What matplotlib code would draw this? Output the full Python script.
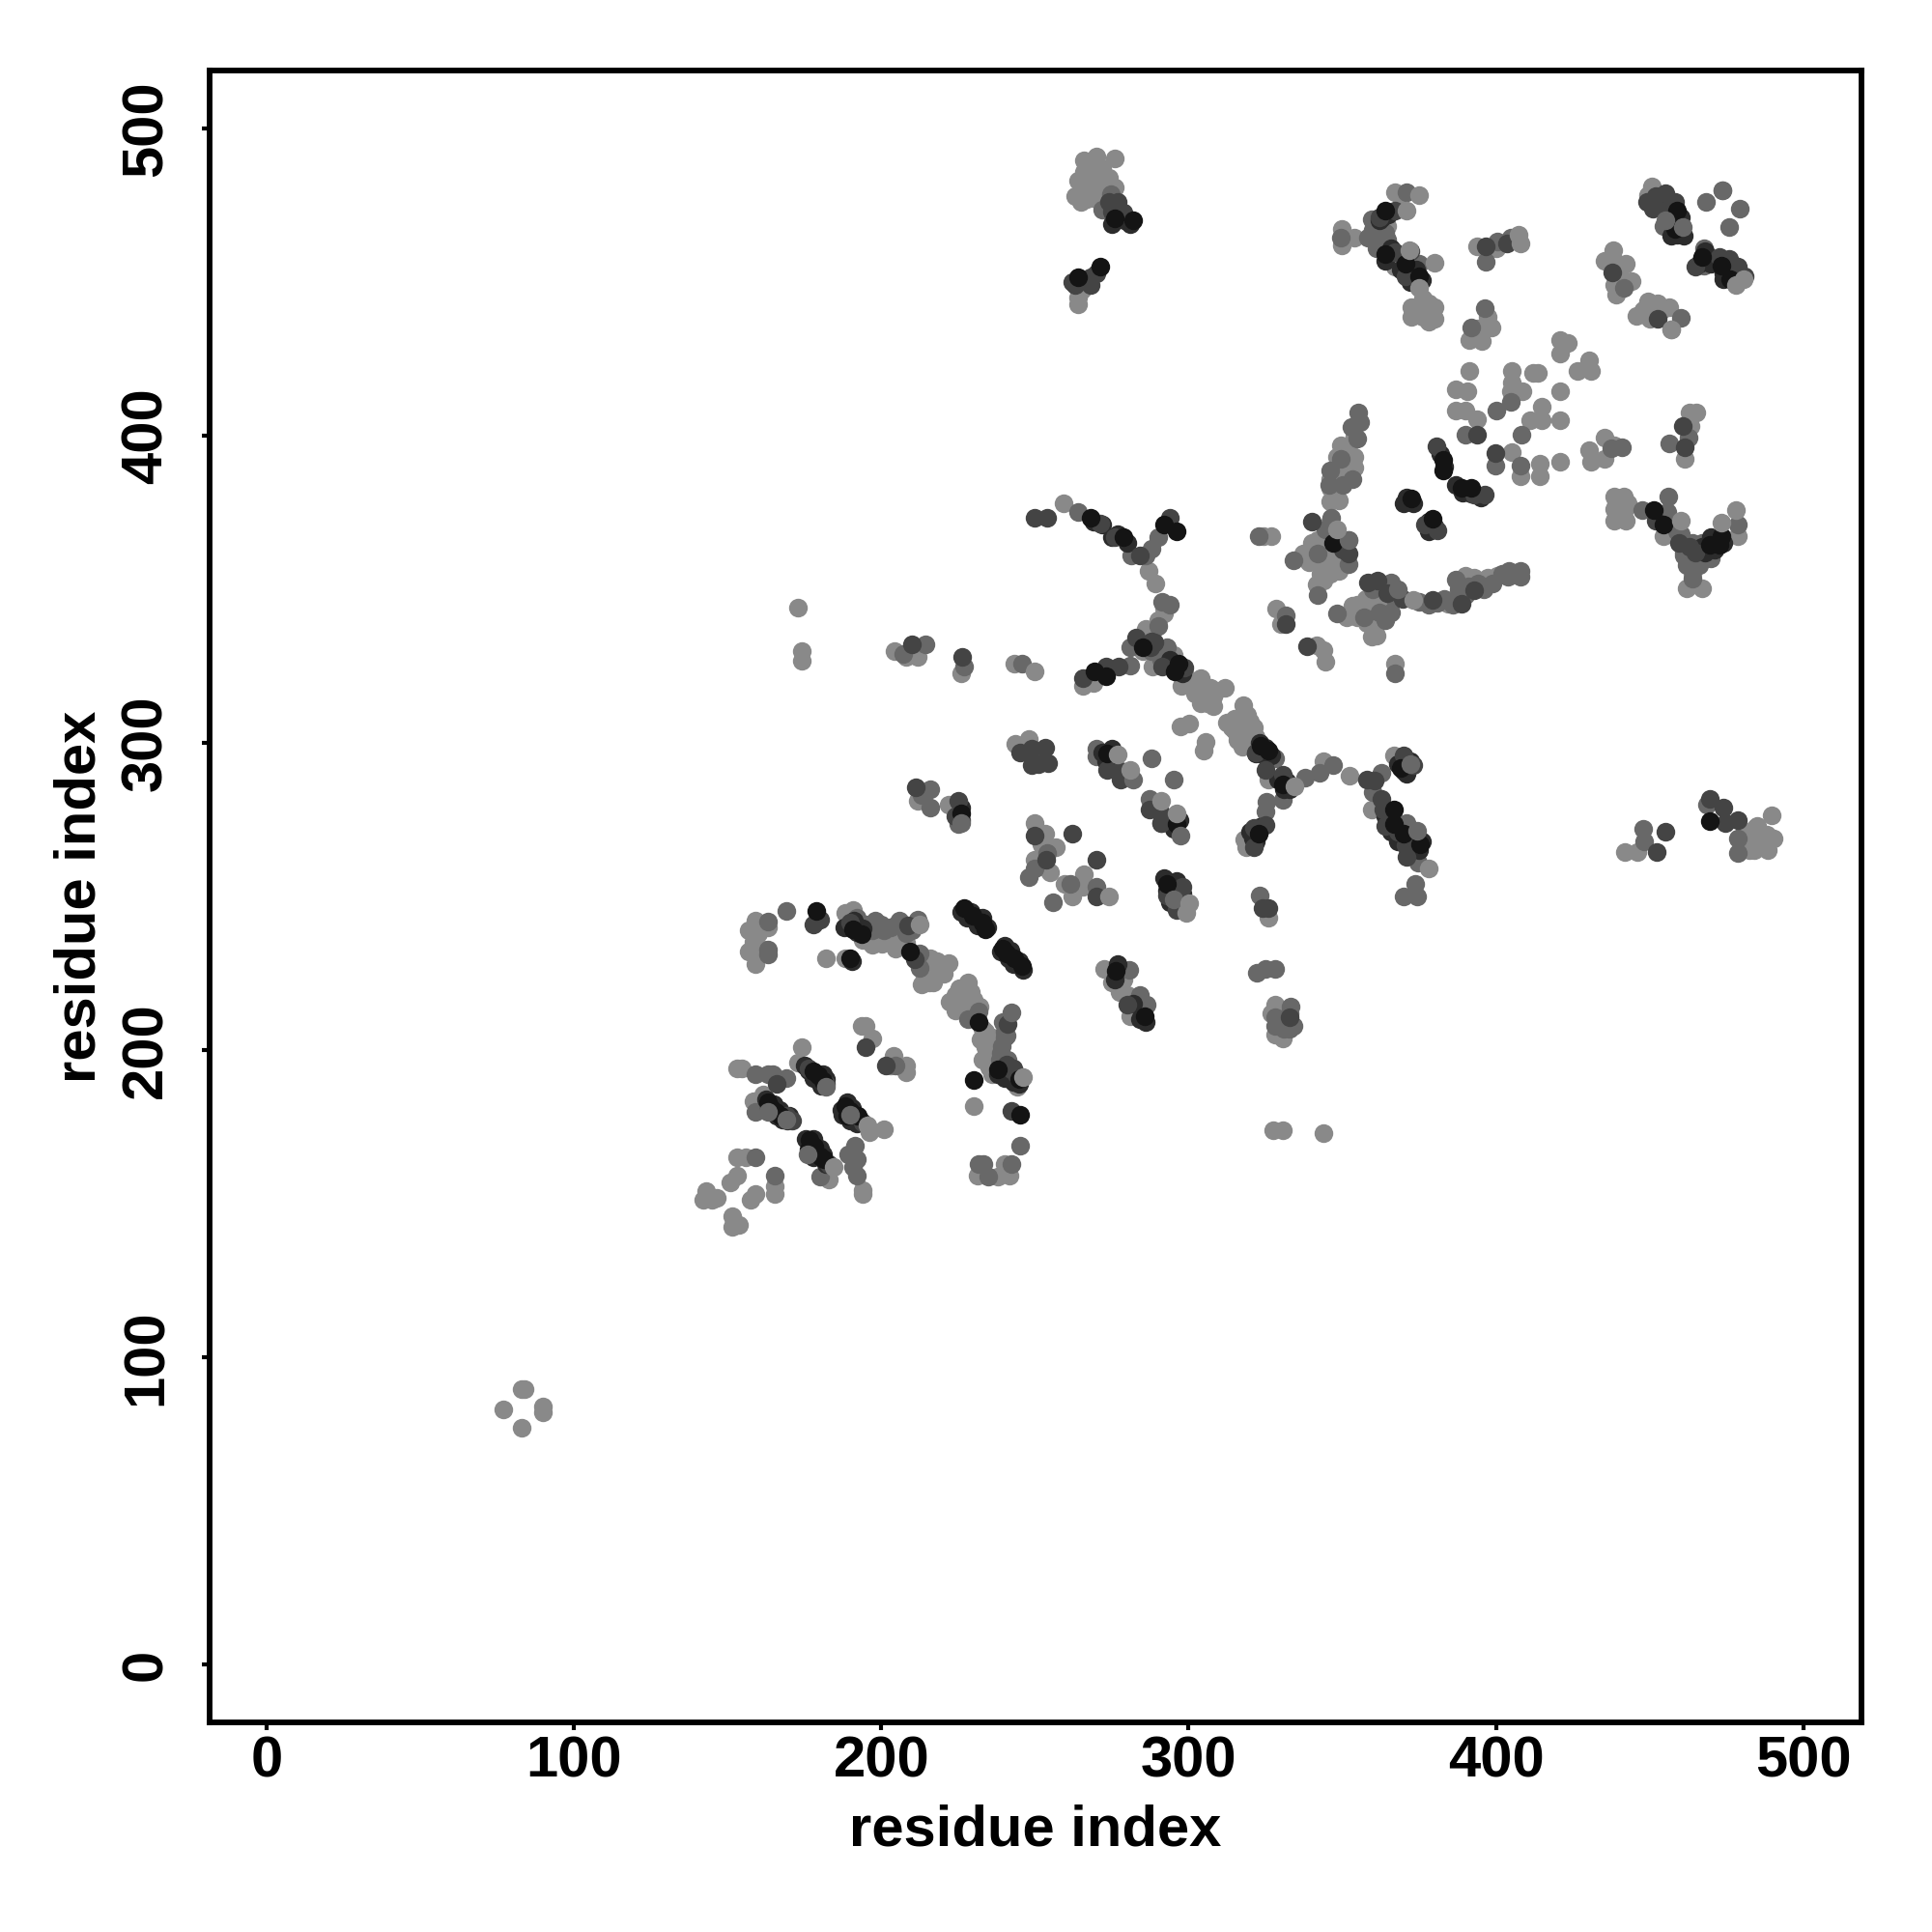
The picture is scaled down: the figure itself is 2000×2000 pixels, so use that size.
import numpy as np
import matplotlib
matplotlib.use('Agg')
import matplotlib.pyplot as plt

# Contact points, (residue, residue), grouped by grey level.
light_pts = [
    (77, 83), (83, 89.5), (84, 89.5), (83, 77), (90, 84), (90, 82),
    (142.2, 151.4), (143, 154), (144.8, 151.4), (146.4, 152), (151, 157), (153, 159),
    (151.6, 146), (151.6, 142.5), (153.7, 143), (153.2, 165), (156, 165),
    (157.4, 151.3), (159, 153), (165.2, 155.6), (165.2, 153), (153.2, 194), (154.8, 194),
    (173, 196), (174, 201), (158.4, 183.4), (161.6, 185.4), (183, 158),
    (201, 174.1), (194, 154.5), (194, 153), (193.5, 208), (195, 208), (197.2, 203.8),
    (204, 198), (203, 195), (208.2, 194.9), (208.2, 192.8), (159, 242), (163.1, 240),
    (158.4, 235.2), (159, 230.5), (182, 230), (188.3, 230), (188.3, 244.7), (190.9, 245.7),
    (194, 236), (205, 241), (197.2, 234.2), (200.3, 234.7), (204.5, 233.1),
    (215, 226.3), (216, 230), (215.5, 222.1), (219.2, 227.4), (221.8, 228.4), (220.2, 224.7),
    (228.1, 222.1), (225.5, 220), (222.3, 215.8), (226.5, 215.8), (230.2, 216.4),
    (233.9, 205.9), (232.3, 203.3), (234.4, 199.6), (235, 194.4), (244.3, 188.1),
    (230.2, 181.8), (231.2, 159.2), (240.1, 163), (241.7, 159.2), (238, 158.7),
    (243.2, 325.9), (268.9, 319.6), (265.7, 318.6), (285.6, 335.8), (288.3, 324.8),
    (295, 328.5), (297.7, 318.5), (304, 321.2), (307.1, 318), (311.8, 318), (306, 312.8),
    (305, 315.4), (297.2, 305.4), (300.1, 306.3), (305.5, 300.2), (305, 297.6),
    (317.8, 312.3), (312.4, 306.5), (317.6, 308), (321.3, 304.9), (317.6, 298.6),
    (326, 288), (343.8, 293.9), (352.2, 289.2), (318.1, 268.7), (318.6, 266.1),
    (366.8, 296), (359.5, 278.2), (250, 274), (253.2, 270.3), (256.8, 266.1),
    (250, 262.1), (253.2, 259.3), (259.5, 254), (266, 257.2), (265.7, 253), (262, 249.9),
    (243.7, 299.7), (247.9, 301.2), (250, 296), (272.5, 226.3), (278.8, 223.1),
    (280.9, 211.1), (277.5, 219), (326, 243.1), (328, 214.8), (330.7, 203.8),
    (327.5, 174), (330.5, 174), (344, 173), (173, 344), (174, 330), (174, 326.8),
    (204.3, 330), (212, 328), (208, 328), (226, 322.8), (212, 281), (222, 280),
    (266, 489.6), (270, 490.8), (276, 490.4), (268, 483.6), (265.2, 479.5), (272, 479.5),
    (264, 483), (264, 445), (265.2, 447.5), (264, 442.7), (367, 479.3),
    (349.8, 467.2), (353.9, 464.4), (349.8, 462), (364.5, 468.3), (367, 455),
    (376.3, 444.7), (372.6, 441.9), (380, 441.9), (372.6, 438.6), (376.3, 438.6), (380, 438),
    (393.7, 461.6), (400, 461), (397.4, 438.6), (398.6, 435.2), (391.2, 431.3), (395.3, 430.7),
    (394, 435), (450.8, 481.2), (449.6, 478.4), (438, 460.5), (435.3, 457.1), (438.3, 457),
    (442.1, 456), (438.4, 449.2), (439, 445.9), (444, 450.4), (445.8, 439.1), (449.6, 443.6),
    (452.7, 443), (448, 441), (456.4, 442), (457, 434.6),
    (421, 431.3), (423.5, 430.2), (421, 426.8), (426.6, 421.2), (430.3, 424.5), (430.9, 421.2),
    (391.2, 421.2), (405.1, 421), (405.1, 417.2), (413.5, 420.6), (412, 420.6), (421, 414.4),
    (408.6, 414.4), (404.9, 414.4), (386.8, 415), (390.6, 414.4), (386.8, 408.2), (389.9, 408.2),
    (393.7, 405.4), (414.8, 409.4), (411.1, 404.9), (414.8, 404.9), (421, 404.9),
    (405.1, 394.8), (408, 386.9), (414.2, 390.8), (414.2, 386.9), (421, 391.4),
    (430.3, 395.3), (435.3, 399.3), (430.9, 391.4), (435.3, 392.5), (438.4, 397),
    (462.9, 407.7), (465.1, 407.7), (463.2, 403.2), (461.4, 392.5),
    (438.4, 380.2), (441.5, 380.2), (438.4, 376.2), (442, 376.2), (438.4, 372.3), (442.1, 372.3),
    (454.5, 367.2), (463.9, 354.9), (462, 350.4), (467, 350.4), (478.8, 367.2),
    (340, 365), (342.1, 366.1), (337.2, 361.6), (339, 358.8), (342.7, 358.3), (341.5, 351.5),
    (344, 352.7), (353.9, 399.8), (349.6, 397), (348.3, 393.1), (353.9, 393.1), (353.9, 389.7),
    (345.9, 385.8), (347.1, 380.7), (345.9, 378.5), (357.6, 347), (353.3, 344.8), (351.4, 340.9),
    (359.5, 342), (360.8, 338), (359.5, 334.7), (384.4, 345.3), (389.9, 354.3), (393, 353.8),
    (397.4, 353.8), (400.5, 354.3), (328.5, 343.7), (330, 338.6), (341.5, 331.9), (344, 330.2),
    (344.6, 326.3), (367, 325.7), (442, 264.6), (446, 264.6), (482.4, 265), (484.4, 272.2),
    (488.4, 265), (490.4, 269), (489.6, 276.3), (484, 265), (482, 269),
    (259.2, 378), (286.9, 356), (289.3, 352), (292, 344), (286, 337), (324.4, 367.2), (327, 367.2),
    # filling out the blobs
    (266, 486), (268, 487), (270, 485), (272, 487), (266, 482), (270, 481), (274, 484),
    (276, 481), (267, 477), (270, 477), (273, 476), (263, 478), (265, 476),
    (299, 322), (301, 320), (303, 319), (306, 316), (308, 315), (309, 317), (304, 313),
    (308, 312), (302, 316), (315, 308), (319, 309), (320, 307), (315, 304), (318, 302),
    (320, 301), (316, 301), (314, 305), (317, 305), (322, 302),
    (198, 236), (201, 236), (203, 235), (206, 235), (208, 235), (216, 228), (218, 229),
    (218, 225), (217, 222), (214, 224), (213, 221.5), (224, 218), (227, 219), (229, 219),
    (225, 216), (228, 214), (230, 214), (224, 213), (232, 214), (234, 201), (236, 197),
    (233, 197), (236, 192), (233, 207), (236, 204),
    (352, 397), (351, 394), (349, 390), (350, 387), (346, 383), (349, 379), (352, 391),
    (343, 363), (345, 360), (347, 358), (349, 356), (346, 355), (343, 355), (344, 362),
    (348, 362), (350, 360), (346, 372), (347, 368), (355, 345), (357, 343), (355, 341),
    (358, 339), (361, 335), (362, 340), (358, 345), (360, 347), (363, 345),
    (483, 268), (485, 270), (487, 268), (486, 266), (485, 273), (481, 271), (488, 270),
    (290, 340), (292, 342), (289, 337), (286, 335), (285, 330), (157, 232), (161, 233),
    (159, 228), (157, 239), (160, 238), (193, 241), (196, 237), (199, 236), (252, 267),
    (252, 263), (255, 258), (278, 220), (280, 218), (275, 222), (327, 212), (328, 205),
    (376, 441), (378, 443), (374, 440), (378, 437), (369, 478), (441, 451), (440, 453),
    (452, 440), (454, 441), (450, 438), (443, 378), (440, 374), (439, 378),
]
mid_pts = [
    (159, 165), (165.2, 159), (159, 192), (163, 192), (164.7, 192), (169, 191),
    (159, 180), (180, 158.7), (191.4, 169), (189.3, 166), (192, 164.5), (190.9, 161.9),
    (192, 159.2), (204.5, 195), (163.1, 241.8), (163, 232.6), (163, 231), (169.1, 245.2),
    (192, 243), (195, 241), (197.2, 238.9), (200.9, 238.9), (211.9, 242.6), (212.4, 231.6),
    (212.4, 226.8), (231.8, 212.7), (228.1, 210), (239.6, 209), (240.7, 204.8), (239.1, 201.1),
    (238.6, 197), (231.8, 163), (233.3, 163), (234.9, 158.7), (242.2, 163), (245.2, 169),
    (245.8, 325.9), (280.9, 325.3), (280.9, 331.1), (290.9, 328), (328, 295), (338, 288.7),
    (342.7, 290.2), (325.4, 280.8), (330.7, 281.3), (324.9, 277.7), (360, 284), (362.6, 290.2),
    (371, 274), (374.7, 260.9), (373.6, 254.1), (370, 249.9), (374.2, 249.9), (248.1, 256.2),
    (261.5, 254), (269.9, 253), (256, 248.1), (269.9, 298.1), (269.9, 295.5), (288, 295),
    (295, 288.1), (287.2, 281.8), (323, 250.4), (322.3, 225.2), (324.9, 226.3), (328, 226.3),
    (333.3, 214.3), (328, 208), (332.8, 206.9), (328, 210.6), (280.6, 226.1), (284.1, 217.9),
    (286.2, 214.8), (207, 329), (214.3, 332), (226.8, 325), (216, 285), (216, 279),
    (225, 273.5), (213, 283), (274.8, 478.8), (272, 473.5), (371, 479.3), (359.5, 470.6),
    (349.6, 464.4), (358.3, 464.4), (364.5, 463.8), (375, 456), (396.8, 456.5), (400.5, 463.3),
    (404.9, 464.4), (396.2, 441.4), (391.8, 435.2), (454.5, 468.3), (468.2, 476.2),
    (473.8, 479.9), (479.4, 474), (476, 468.1), (467.6, 461), (467.6, 455.4), (441.5, 448.1),
    (460.1, 438.3), (404.9, 411), (400.1, 408.2), (389.9, 400.4), (408.2, 400.2), (399.9, 390.3),
    (408, 390.3), (441.1, 396.2), (456.4, 397.6), (462.6, 399.3), (447.7, 375.7), (456, 380.2),
    (455.8, 375.1), (463.9, 365), (464.5, 360.5), (467, 360.5), (478.8, 371.2), (463.9, 353.5),
    (346.5, 373.4), (344.6, 369.5), (352.1, 366.1), (342.1, 361.6), (334, 359.6), (352.1, 358.3),
    (342.1, 348.2), (355.2, 407.7), (355.8, 404.3), (349.6, 392.5), (345.9, 388.6), (353.3, 385.8),
    (345.6, 384), (348.3, 342), (357, 341), (362, 342.5), (365.7, 342.5), (365.7, 352.1),
    (367, 347), (367, 350), (386.8, 353.2), (404.2, 356), (408, 356), (381, 345.5),
    (331.6, 341.4), (322.9, 367.2), (448.3, 267.8), (448, 272), (478.7, 269), (478.7, 264.2),
    (468.5, 280), (291.3, 346), (294, 345), (264, 375.3), (281.3, 361), (288, 363.3), (290, 367),
    (286, 361), (367, 322.5),
    # filling out the blobs
    (240, 204), (239, 199), (241, 197), (240, 206), (375, 346), (378, 345), (383, 347),
    (386, 346), (388, 350), (391, 351), (394, 352), (396, 350), (399, 352), (402, 355),
    (404, 354), (406, 355), (408, 354), (386, 345), (390, 348), (460, 368), (461, 362),
    (459, 369), (463, 362), (466, 358), (462, 358), (461, 361), (467, 365), (470, 360),
    (290, 338), (288, 330), (291, 327), (293, 331), (330, 209), (333, 212), (331, 207),
    (334, 208), (254, 264), (250, 259), (353, 403), (355, 399), (350, 384), (203, 240),
    (206, 242), (208, 238), (210, 239), (198, 242), (200, 241), (364, 340), (360, 350),
    (364, 466), (360, 467), (361, 461), (362, 465),
]
near_black_pts = [
    (175, 195), (176.5, 193.5), (178.5, 192.5), (180, 190.5), (181, 192), (178, 191),
    (182, 190.5), (180.5, 188.5), (162.5, 184), (163.5, 181), (165, 182.5), (166, 178.5),
    (167, 180.5), (168, 177.5), (169.5, 177), (170, 178.5), (175.5, 171), (177, 169),
    (178, 171), (179, 166.5), (180, 168), (181, 166), (182, 163), (178, 165),
    (187, 180.5), (189, 183), (190.5, 181), (191, 178), (193, 177.5), (187.5, 179),
    (190, 177), (192, 176), (188, 240), (189.5, 240.5), (192, 238.5), (194, 239.5), (191, 242),
    (226, 245), (228, 243), (229, 245), (231, 243), (231.5, 240.5), (233, 243), (234.5, 240),
    (228, 244.5), (239, 232), (240, 234), (241.5, 230), (242, 232.5), (244, 228.5), (245, 229),
    (243, 228), (246, 226), (238, 192), (240, 191), (242, 192), (243, 189.5), (245, 189),
    (243.5, 192), (294, 327), (297, 324), (298, 322.5), (294, 325), (323, 300), (325, 298.5),
    (322, 296.5), (325, 295.5), (327, 296), (329, 288), (331, 285), (332, 287.5), (333, 285),
    (363, 471), (365, 472), (362, 470), (364, 457), (366, 461), (369, 454), (372, 450),
    (374, 454), (376, 450.5), (452, 476), (454, 474), (456, 475.5), (458, 470), (460, 471),
    (457, 465), (459, 465.5), (461, 465), (466, 456), (468, 460), (470, 456), (472, 457),
    (474, 453), (476, 452), (474, 451), (478, 452), (467, 364), (471, 363), (474, 365),
    (470, 367), (468, 362), (269, 372), (272, 371), (275, 367), (277, 368), (280, 365),
    (382, 394), (383, 390), (371, 380), (373, 378), (370, 378), (378, 372), (380, 370.5),
    (378, 369), (387, 384), (389, 381.5), (392, 381), (395, 380), (275, 469), (277, 472),
    (279, 470), (281, 469), (190.5, 229), (320, 271), (322, 268), (323, 272.5), (321, 269),
    (364, 276), (366, 271), (368, 268), (373, 266), (376, 268), (375, 265), (368, 293),
    (370, 291), (372, 294), (371, 290), (275, 298), (272, 297), (273, 294), (291, 274),
    (295, 272), (297, 275), (293, 252), (294, 248), (296, 255), (298, 251), (292, 256),
    (282, 215), (286, 209), (284, 210), (277, 228), (276, 223), (226, 279),
]
dark_pts = [
    (166, 189), (176.2, 194), (182, 189), (169, 178.6), (171, 177), (183, 163),
    (194, 176.5), (195, 201), (201.4, 194.9), (180, 242.3), (189.9, 241.5), (208.7, 240.5),
    (210.8, 229.5), (241.2, 208.5), (240.7, 195.4), (242.2, 193.8), (242.2, 180.2),
    (265.7, 321.2), (273.1, 324.8), (277.3, 324.8), (283, 334.3), (287.7, 331.1), (288.8, 332.7),
    (291.4, 324.8), (298.5, 324.5), (321.8, 297), (324.9, 291.3), (330.7, 289.7), (324.9, 273.4),
    (321.3, 272.4), (321.3, 266.1), (357.9, 288.1), (370, 296), (373.1, 292.9), (360.5, 287.6),
    (362.6, 281.8), (363.2, 278.2), (370.5, 266.6), (250, 269.8), (262, 270.3), (253.7, 261.9),
    (269.9, 262.1), (269.9, 249.9), (245.3, 297), (249, 298.1), (253.2, 298.4), (249, 292.9),
    (254.2, 293.4), (251, 293), (273.6, 291.3), (277.8, 290.8), (277.8, 288.1), (287.2, 278.2),
    (290.9, 277.1), (290.9, 274), (293, 250.4), (297.9, 253), (296.1, 245.7), (323.9, 246.2),
    (326, 246.2), (279.9, 214.8), (332.8, 210.6), (210, 332), (226.4, 328), (211.1, 285.5),
    (225, 281), (278.8, 472.7), (268, 451.5), (367, 473.4), (367, 459.9), (370.7, 452),
    (396.8, 461.6), (403.6, 462.7), (452, 477.9), (455.2, 479), (458.3, 476.2), (455.2, 473.4),
    (472.6, 458.2), (475.7, 457.7), (478.8, 454.9), (437.8, 453.2), (452.7, 438),
    (393.9, 400.2), (399.9, 394.2), (460.8, 403.2), (461.4, 396.4), (380.6, 396.5), (381, 369.3),
    (377, 371), (393, 380.7), (396.2, 380.7), (452.1, 372.3), (459.5, 365), (352.1, 361.6),
    (358.3, 352.1), (361.4, 352.7), (364.5, 348.7), (369.5, 347), (379.4, 346.5), (388.7, 345.3),
    (393, 349.8), (331.6, 338.6), (338.4, 331.3), (452.3, 264.6), (455.1, 271), (469.6, 281.9),
    (473.9, 279), (474.7, 273.9), (478.7, 275), (250, 373.3), (254, 373.3), (271.2, 371.3),
    (276, 367), (284, 361), (294, 373.3), (288, 333),
    # filling out the blobs
    (274, 476), (277, 476), (275, 473), (243, 194), (244, 192), (262, 450), (263, 449),
    (270, 453), (268, 449), (178, 241), (226, 275), (224, 276), (362, 471), (372, 460),
    (449, 476), (451, 474), (481, 452), (465, 455), (463, 364), (465, 362), (340, 372),
    (350, 363), (349, 366), (368, 271), (371, 263), (364, 273),
]
black_pts = [
    (177.8, 193), (179.4, 191.7), (181, 190), (163, 183), (164.2, 181.2), (165.8, 180),
    (167.3, 178.6), (176.8, 170.8), (178.3, 168.7), (180, 165.5), (181.5, 164.5), (176.2, 167.6),
    (188.3, 181.8), (189.9, 180.2), (188.8, 178.6), (192.5, 178.6), (179, 245.2), (190, 230),
    (190.9, 239.4), (193.5, 237.8), (209.2, 232), (227, 246.2), (229.7, 243.6), (232.8, 241.5),
    (233.9, 239.4), (239.6, 233.1), (240.7, 231.6), (243.3, 230), (245.9, 227.2), (231.8, 209),
    (238, 193.8), (244.8, 190.7), (230.2, 190.1), (245.2, 178.9), (269.4, 323.2), (273.1, 321.7),
    (285, 331), (296.6, 325.9), (295.6, 323.2), (323.4, 299.1), (326, 297.6), (330.7, 286.6),
    (322.8, 270.3), (368.9, 291.8), (366.8, 278.2), (366.8, 273.5), (370, 270.3), (375.2, 267),
    (273.6, 296.5), (296.1, 273.5), (293, 254.1), (276.2, 225.8), (285.8, 211.1), (226, 277),
    (276, 470.7), (282, 470.3), (264, 451.5), (271.2, 455), (363.9, 473.4), (363.9, 459.3),
    (370.7, 456), (375, 452), (458.9, 473.4), (458.3, 467.2), (467, 458.2), (473.2, 455.4),
    (476.3, 450.9), (382.9, 392.2), (382.9, 388.6), (372.6, 379.6), (379.4, 372.9), (388.7, 383),
    (391.8, 383), (451.4, 375.7), (454.5, 371.2), (473.2, 367.2), (469.5, 364.5), (472.6, 364.5),
    (347.1, 365), (469.6, 274.6), (268, 373.3), (278.8, 367), (292, 371), (296, 369),
]
# Points that sit over the darker ones in the picture
top_light_pts = [
    (184.6, 162), (195.6, 175.5), (196, 173.4), (246.1, 191.2), (212.4, 241), (250, 323.3),
    (276.9, 296.3), (280.9, 291.3), (291.1, 281.1), (296.1, 277.1), (378, 259), (300.3, 247.8),
    (299.3, 244.6), (274.1, 250.1), (334.4, 286), (371, 473.2), (371.9, 460.5), (375, 478.4),
    (375, 448.1), (408, 462.7), (407.3, 465.5), (380, 456.3), (478.1, 449.2), (480.6, 450.9),
    (460.1, 372.3), (473.2, 371.8), (478.1, 375.7), (348.3, 369.5), (457, 434.6), (373.2, 346.5),
]
top_mid_pts = [
    (282, 287.9), (297.2, 269.8), (374.2, 271.4), (346.9, 292.9), (473.8, 479.9), (460.8, 467.8),
    (352.1, 366.1), (242.2, 212.2), (437.5, 396), (169, 177.5), (182, 188), (368, 350),
    (372, 293), (295, 249), (226, 274), (163, 180), (190, 179), (176, 166), (455, 470),
]

layers = [
    (light_pts, '#898989'),
    (mid_pts, '#686868'),
    (near_black_pts, '#2c2c2c'),
    (dark_pts, '#444444'),
    (black_pts, '#141414'),
    (top_mid_pts, '#686868'),
    (top_light_pts, '#898989'),
]
tick_values = [0, 100, 200, 300, 400, 500]
axis_label = 'residue index'

plt.rcParams['font.family'] = ['Liberation Sans', 'DejaVu Sans']
plt.rcParams['font.weight'] = 'bold'

fig = plt.figure(figsize=(20, 20), dpi=100)
ax = fig.add_axes([0.1085, 0.1085, 0.855, 0.855])

for points, colour in layers:
    pts = np.array(points)
    ax.scatter(pts[:, 0], pts[:, 1], s=195, c=colour, linewidths=0)

ax.set_xlim(-18.5, 518.9)
ax.set_ylim(-18.9, 518.9)
ax.set_xticks(tick_values)
ax.set_yticks(tick_values)
ax.tick_params(length=6, width=3, labelsize=43)
ax.tick_params(axis='x', pad=4)
ax.tick_params(axis='y', pad=21)
plt.setp(ax.get_yticklabels(), rotation=90, va='center')
ax.set_xlabel(axis_label, fontsize=43, fontweight='bold', labelpad=11.5)
ax.set_ylabel(axis_label, fontsize=43, fontweight='bold', labelpad=10)
for spine in ax.spines.values():
    spine.set_linewidth(4.2)

fig.savefig('out.png', dpi=100)
